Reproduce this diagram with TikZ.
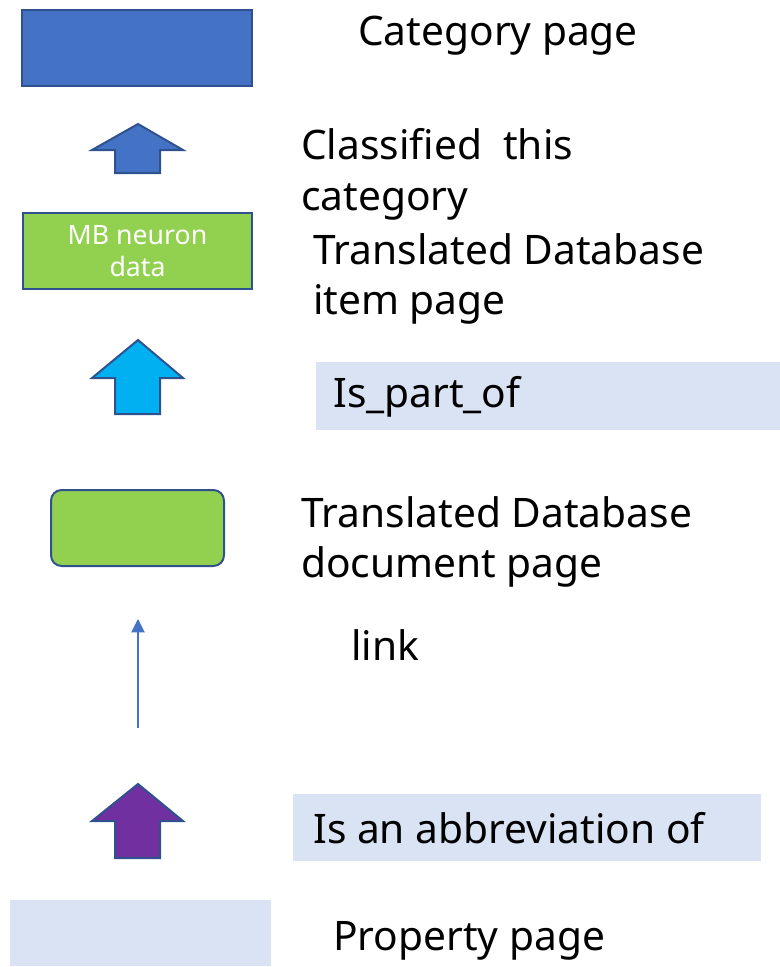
\documentclass[tikz,border=0pt]{standalone}
\usepackage{fontspec}
\setmainfont{Noto Sans}
\usetikzlibrary{arrows.meta, positioning}
\definecolor{catblue}{HTML}{4472C4}
\definecolor{edgeblue}{HTML}{2F528F}
\definecolor{leafgreen}{HTML}{92D050}
\definecolor{paleblue}{HTML}{DAE3F3}
\definecolor{skyblue}{HTML}{00B0F0}
\definecolor{plum}{HTML}{7030A0}
\begin{document}
\begin{tikzpicture}[
    x=0.75pt, y=-0.75pt,
    txt/.style={anchor=west, inner sep=0pt, align=left, font=\fontsize{30.5}{38}\selectfont},
    box/.style={rectangle, draw=edgeblue, line width=1.5pt, inner sep=0pt},
    band/.style={rectangle, fill=paleblue, inner sep=0pt},
    blockup/.style={draw=edgeblue, line width=1.5pt, line join=miter},
    arrow/.style={draw=catblue, line width=0.8pt, -{Triangle[width=10pt,length=10pt]}}
]
\useasboundingbox (0,0) rectangle (780,967);

% Nodes
\node (cat) [box, fill=catblue, minimum width=172.5pt, minimum height=57pt] at (137,48) {};
\node (cattxt) [txt] at (358,36) {Category page};
\node (item) [box, fill=leafgreen, minimum width=171.75pt, minimum height=57pt, align=center,
    text=white, font=\fontsize{20}{24}\selectfont] at (137.5,251) {MB neuron\\data};
\node (classtxt) [txt] at (301,174) {Classified\ \ this\\category};
\node (itemtxt) [txt] at (313,279) {Translated Database\\item page};
\node (partof) [band, minimum width=348pt, minimum height=51pt] at (548,396) {};
\node (partoftxt) [txt] at (333,397) {Is\_part\_of};
\node (doc) [box, rounded corners=8pt, fill=leafgreen, minimum width=129.75pt, minimum height=57pt] at (137.5,528) {};
\node (doctxt) [txt] at (301,542) {Translated Database\\document page};
\node (linktxt) [txt] at (351,645) {link};
\node (abbrev) [band, minimum width=351pt, minimum height=50.25pt] at (527,827.5) {};
\node (abbrevtxt) [txt] at (313,828) {Is an abbreviation of};
\node (prop) [band, minimum width=195.75pt, minimum height=49.5pt] at (140.5,933) {};
\node (proptxt) [txt] at (333,941) {Property page};
\coordinate (linkfoot) at (138,728);
\coordinate (linktip) at (138,619);

% Block arrows
\draw [blockup, fill=catblue] (138,124) -- (183,150) -- (160,150) -- (160,173) -- (115,173) -- (115,150) -- (92,150) -- cycle;
\draw [blockup, fill=skyblue] (138,340) -- (183,378) -- (160,378) -- (160,414) -- (115,414) -- (115,378) -- (92,378) -- cycle;
\draw [blockup, fill=plum] (138,784) -- (183,821) -- (160,821) -- (160,858) -- (115,858) -- (115,821) -- (92,821) -- cycle;

% Link
\draw [arrow] (linkfoot) -- (linktip);

\end{tikzpicture}
\end{document}
